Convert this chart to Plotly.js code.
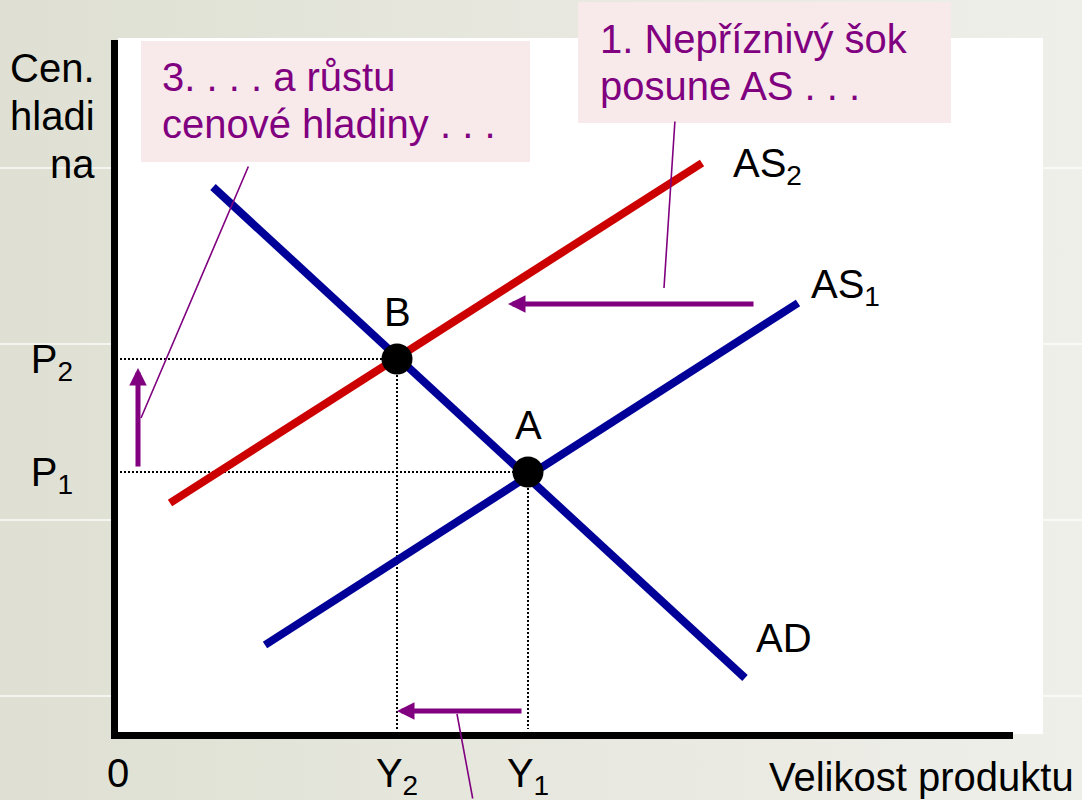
<!DOCTYPE html>
<html>
<head>
<meta charset="utf-8">
<script src="https://cdn.plot.ly/plotly-3.0.1.min.js"></script>
<style>
  html, body { margin: 0; padding: 0; }
  body { background: linear-gradient(to right, #dfe0d3, #efefea); }
  #chart { width: 1082px; height: 800px; }
</style>
</head>
<body>
<div id="chart"></div>
<script>
// curves (output on x, price level on y, 1 unit = 10 px)
const adX = [9.5, 62.7];
const adY = [54.5, 5.4];
const as1X = [14.7, 68.0];
const as1Y = [8.7, 42.9];
const as2X = [5.2, 58.4];
const as2Y = [22.9, 56.9];

// equilibria
const eqNames = ["A", "B"];
const eqX = [41.0, 27.9];
const eqY = [26.0, 37.3];

// tick labels
const xTickText = ["0", "Y<sub>2</sub>", "Y<sub>1</sub>"];
const yTickText = ["P<sub>1</sub>", "P<sub>2</sub>"];

// shift arrows: AS shift, price rise, output fall
const arrowTailX = [63.7, 2.0, 40.5];
const arrowTailY = [42.8, 26.4, 2.1];
const arrowHeadX = [39.0, 2.0, 27.9];
const arrowHeadY = [42.8, 36.4, 2.1];

// thin callout lines (box side -> arrow side)
const calloutFromX = [55.7, 13.1, 35.5];
const calloutFromY = [61.2, 56.7, -6.8];
const calloutToX = [54.6, 2.3, 33.9];
const calloutToY = [44.4, 31.4, 1.8];

const FONT = "Liberation Sans, Arial, sans-serif";
const PURPLE = "#800080";
const BLUE = "#000099";
const RED = "#cc0000";

// page pixel -> paper coords
const fx = (p) => (p - 118) / 895;
const fy = (p) => (732 - p) / 692;

const guideX = [0.2, eqX[1], null, 0.2, eqX[0], null, eqX[1], eqX[1], null, eqX[0], eqX[0]];
const guideY = [eqY[1], eqY[1], null, eqY[0], eqY[0], null, eqY[1], 0.3, null, eqY[0], 0.3];

const traces = [
  { x: guideX, y: guideY, mode: "lines", line: { color: "#000", width: 2, dash: "2px,2px" }, hoverinfo: "skip" },
  { x: as1X, y: as1Y, mode: "lines", line: { color: BLUE, width: 8 }, name: "AS1" },
  { x: adX, y: adY, mode: "lines", line: { color: BLUE, width: 8 }, name: "AD" },
  { x: as2X, y: as2Y, mode: "lines", line: { color: RED, width: 8 }, name: "AS2" },
  { x: eqX, y: eqY, mode: "markers", marker: { color: "#000", size: 31 }, text: eqNames, cliponaxis: false }
];

const txt = (text, x, y, xanchor, color, size) => ({
  text, x, y, xref: "paper", yref: "paper", xanchor, yanchor: "middle",
  showarrow: false, font: { family: FONT, size: size || 40, color: color || "#000" }
});

const annotations = [
  txt("Cen.", fx(97), fy(68), "right"),
  txt("hladi", fx(97), fy(116), "right"),
  txt("na", fx(97), fy(164), "right"),
  txt("3. . . . a růstu", fx(160), fy(77), "left", PURPLE),
  txt("cenové hladiny . . .", fx(160), fy(124), "left", PURPLE),
  txt("1. Nepříznivý šok", fx(598), fy(39), "left", PURPLE),
  txt("posune AS . . .", fx(598), fy(86), "left", PURPLE),
  txt("Velikost produktu", fx(1076), fy(777), "right"),
  txt("AS<sub>2</sub>", fx(731), fy(166), "left"),
  txt("AS<sub>1</sub>", fx(809), fy(287), "left"),
  txt("AD", fx(754), fy(638), "left")
];

eqNames.forEach((n, i) => {
  annotations.push({
    text: n, x: eqX[i], y: eqY[i] + 4.7, xref: "x", yref: "y", showarrow: false,
    xanchor: "center", yanchor: "middle", font: { family: FONT, size: 40, color: "#000" }
  });
});

arrowHeadX.forEach((hx, i) => {
  annotations.push({
    text: "", x: hx, y: arrowHeadY[i], ax: arrowTailX[i], ay: arrowTailY[i],
    xref: "x", yref: "y", axref: "x", ayref: "y",
    showarrow: true, arrowhead: 2, arrowsize: 0.7, arrowwidth: 5, arrowcolor: PURPLE, standoff: 0
  });
});

calloutToX.forEach((cx, i) => {
  annotations.push({
    text: "", x: cx, y: calloutToY[i], ax: calloutFromX[i], ay: calloutFromY[i],
    xref: "x", yref: "y", axref: "x", ayref: "y",
    showarrow: true, arrowhead: 0, arrowwidth: 1.6, arrowcolor: PURPLE, standoff: 0
  });
});

const bgLine = (y) => ({
  type: "line", xref: "paper", yref: "paper", x0: fx(0), x1: fx(1082), y0: fy(y), y1: fy(y),
  line: { color: "rgba(255,255,255,0.85)", width: 1.5 }, layer: "below"
});
const rect = (x0, x1, y0, y1, color) => ({
  type: "rect", xref: "paper", yref: "paper", x0: fx(x0), x1: fx(x1), y0: fy(y1), y1: fy(y0),
  fillcolor: color, line: { width: 0 }, layer: "below"
});

const shapes = [
  bgLine(168), bgLine(344), bgLine(520), bgLine(696),
  rect(118, 1043, 38, 734, "#ffffff"),
  rect(141, 530, 41, 162, "#f8eaeb"),
  rect(578, 951, 2, 123, "#f8eaeb")
];

const layout = {
  width: 1082,
  height: 800,
  margin: { l: 118, r: 69, t: 40, b: 68 },
  paper_bgcolor: "rgba(0,0,0,0)",
  plot_bgcolor: "#ffffff",
  showlegend: false,
  xaxis: {
    range: [0, 89.5], showgrid: false, zeroline: false, fixedrange: true,
    showline: true, linewidth: 7, linecolor: "#000",
    tickmode: "array", tickvals: [0, eqX[1], eqX[0]], ticktext: xTickText,
    ticks: "", ticklen: 0, ticklabelstandoff: 0,
    tickfont: { family: FONT, size: 40, color: "#000" }
  },
  yaxis: {
    range: [0, 69.2], showgrid: false, zeroline: false, fixedrange: true,
    showline: true, linewidth: 7, linecolor: "#000",
    tickmode: "array", tickvals: eqY, ticktext: yTickText,
    ticks: "", ticklen: 0, ticklabelstandoff: 30,
    tickfont: { family: FONT, size: 40, color: "#000" }
  },
  shapes,
  annotations
};

Plotly.newPlot("chart", traces, layout, { displayModeBar: false, staticPlot: true });
</script>
</body>
</html>
